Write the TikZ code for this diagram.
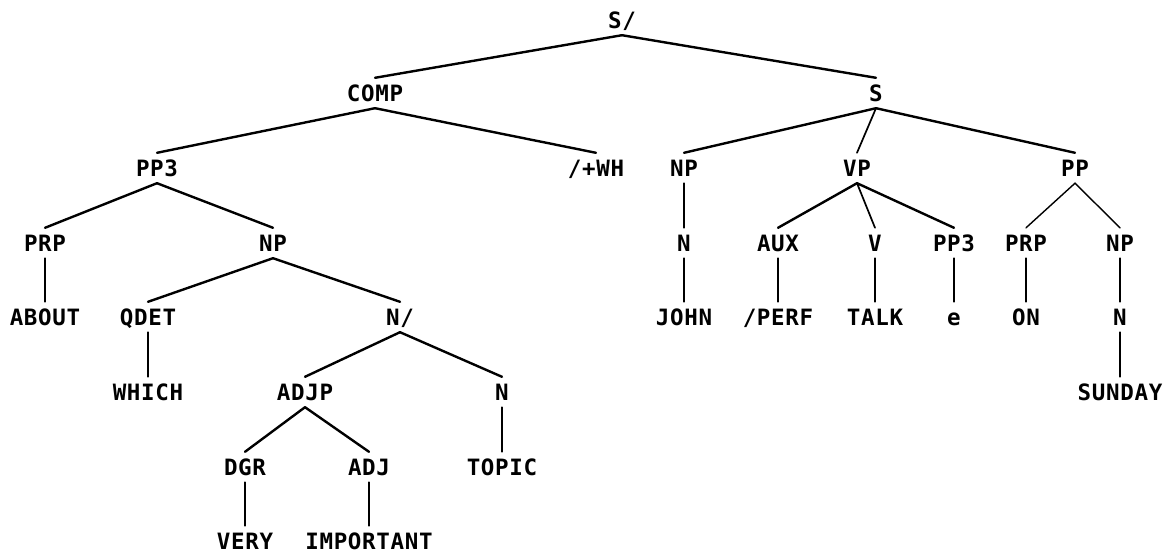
\documentclass[tikz,border=0pt]{standalone}
\usepackage{fontspec}
\newfontfamily\plotfont[LetterSpace=3]{DejaVu Sans Mono Bold}
\begin{document}
\begin{tikzpicture}[x=1pt,y=-1pt,
  lab/.style={font=\plotfont\fontsize{22.5}{22.5}\selectfont, inner xsep=0pt, inner ysep=7pt,
              text height=16pt, text depth=0pt},
  branch/.style={line width=2.4pt, line cap=round},
  thinbranch/.style={line width=1.4pt, line cap=round},
  vline/.style={line width=1.7pt, line cap=round}]
\useasboundingbox (0,0) rectangle (1164,554);
% level 0
\node[lab] (s0) at (622,20) {S/};
% level 1
\node[lab] (comp) at (375,93) {COMP};
\node[lab] (s) at (876,93) {S};
% level 2
\node[lab] (pp3a) at (157,168) {PP3};
\node[lab] (wh) at (596,168) {/+WH};
\node[lab] (np1) at (684,168) {NP};
\node[lab] (vp) at (857,168) {VP};
\node[lab] (pp) at (1075,168) {PP};
% level 3
\node[lab] (prp1) at (45,243) {PRP};
\node[lab] (np2) at (273,243) {NP};
\node[lab] (n1) at (684,243) {N};
\node[lab] (aux) at (778,243) {AUX};
\node[lab] (v) at (875,243) {V};
\node[lab] (pp3b) at (954,243) {PP3};
\node[lab] (prp2) at (1026,243) {PRP};
\node[lab] (np3) at (1120,243) {NP};
% level 4
\node[lab] (about) at (45,317) {ABOUT};
\node[lab] (qdet) at (148,317) {QDET};
\node[lab] (nbar) at (400,317) {N/};
\node[lab] (john) at (684,317) {JOHN};
\node[lab] (perf) at (778,317) {/PERF};
\node[lab] (talk) at (875,317) {TALK};
\node[lab] (e) at (954,317) {e};
\node[lab] (on) at (1026,317) {ON};
\node[lab] (n2) at (1120,317) {N};
% level 5
\node[lab] (which) at (148,392) {WHICH};
\node[lab] (adjp) at (305,392) {ADJP};
\node[lab] (n3) at (502,392) {N};
\node[lab] (sunday) at (1120,392) {SUNDAY};
% level 6
\node[lab] (dgr) at (245,467) {DGR};
\node[lab] (adj) at (369,467) {ADJ};
\node[lab] (topic) at (502,467) {TOPIC};
% level 7
\node[lab] (very) at (245,541) {VERY};
\node[lab] (important) at (369,541) {IMPORTANT};
% branches
\draw[branch] (s0.south) -- (comp.north);
\draw[branch] (s0.south) -- (s.north);
\draw[branch] (comp.south) -- (pp3a.north);
\draw[branch] (comp.south) -- (wh.north);
\draw[branch] (pp3a.south) -- (prp1.north);
\draw[branch] (pp3a.south) -- (np2.north);
\draw[branch] (np2.south) -- (qdet.north);
\draw[branch] (np2.south) -- (nbar.north);
\draw[branch] (nbar.south) -- (adjp.north);
\draw[branch] (nbar.south) -- (n3.north);
\draw[branch] (adjp.south) -- (dgr.north);
\draw[branch] (adjp.south) -- (adj.north);
\draw[branch] (s.south) -- (np1.north);
\draw[vline] (s.south) -- (vp.north);
\draw[branch] (s.south) -- (pp.north);
\draw[branch] (vp.south) -- (aux.north);
\draw[vline] (vp.south) -- (v.north);
\draw[branch] (vp.south) -- (pp3b.north);
\draw[thinbranch] (pp.south) -- (prp2.north);
\draw[thinbranch] (pp.south) -- (np3.north);
% vertical connectors
\draw[vline] (prp1.south) -- (about.north);
\draw[vline] (qdet.south) -- (which.north);
\draw[vline] (dgr.south) -- (very.north);
\draw[vline] (adj.south) -- (important.north);
\draw[vline] (n3.south) -- (topic.north);
\draw[vline] (np1.south) -- (n1.north);
\draw[vline] (n1.south) -- (john.north);
\draw[vline] (aux.south) -- (perf.north);
\draw[vline] (v.south) -- (talk.north);
\draw[vline] (pp3b.south) -- (e.north);
\draw[vline] (prp2.south) -- (on.north);
\draw[vline] (np3.south) -- (n2.north);
\draw[vline] (n2.south) -- (sunday.north);
\end{tikzpicture}
\end{document}
